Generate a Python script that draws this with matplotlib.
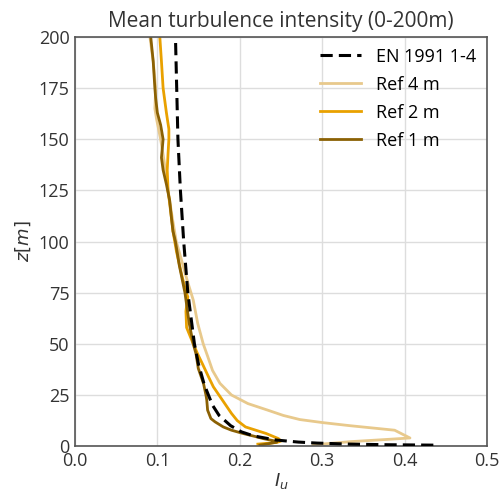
import numpy as np
import matplotlib
matplotlib.use("Agg")
import matplotlib.pyplot as plt

# --- data (z in m, turbulence intensity) ---
z_en = [0.5, 0.7, 1.0, 1.5, 2, 3, 5, 7, 10, 15, 20, 30, 40, 50, 75, 100, 125, 150, 175, 200]
iu_en = [0.435, 0.38, 0.334, 0.294, 0.271, 0.244, 0.217, 0.202, 0.189, 0.175, 0.167, 0.157,
         0.150, 0.145, 0.137, 0.132, 0.128, 0.125, 0.1235, 0.122]

z_ref4 = [0.6, 1.2, 2.2, 3.2, 4.0, 7.8, 10.0, 11.5, 13.0, 15.0, 17.6, 20.8, 25, 30.7, 37,
          44, 50, 60, 71.4, 80, 90, 100, 112, 125, 140, 150, 160, 165, 175, 188, 200]
iu_ref4 = [0.289, 0.305, 0.334, 0.375, 0.4066, 0.388, 0.334, 0.301, 0.273, 0.253, 0.234,
           0.210, 0.190, 0.176, 0.167, 0.161, 0.1557, 0.149, 0.1436, 0.137, 0.130, 0.123,
           0.118, 0.113, 0.108, 0.104, 0.099, 0.097, 0.098, 0.095, 0.091]

z_ref2 = [1.0, 1.8, 2.5, 3.7, 6.2, 9.4, 12.5, 16, 22.5, 29, 34, 40, 45, 50, 58, 66, 73, 75,
          84, 95, 105, 112, 125, 135, 143, 150, 155, 163, 175, 188, 200]
iu_ref2 = [0.222, 0.245, 0.250, 0.247, 0.232, 0.207, 0.197, 0.190, 0.179, 0.168, 0.162,
           0.155, 0.149, 0.1436, 0.1355, 0.1347, 0.137, 0.135, 0.1294, 0.1233, 0.119, 0.117,
           0.113, 0.112, 0.113, 0.114, 0.114, 0.111, 0.107, 0.105, 0.103]

z_ref1 = [0.5, 1.2, 2.0, 2.5, 3.7, 4.6, 6.2, 7.8, 9.4, 11.9, 13.5, 17.6, 22.5, 25, 30.7, 38,
          45, 50, 60, 75, 88.5, 100, 105, 112, 120, 128, 135, 141, 150, 157, 163, 170, 175,
          188, 200]
iu_ref1 = [0.2245, 0.235, 0.245, 0.243, 0.2285, 0.220, 0.204, 0.190, 0.180, 0.170, 0.165,
           0.161, 0.160, 0.159, 0.156, 0.1497, 0.147, 0.1436, 0.1387, 0.1335, 0.1266, 0.122,
           0.119, 0.117, 0.115, 0.111, 0.107, 0.105, 0.107, 0.104, 0.100, 0.098, 0.097,
           0.095, 0.092]

plt.rcParams['font.family'] = ['Open Sans', 'DejaVu Sans']
plt.rcParams['mathtext.fontset'] = 'dejavusans'

fig = plt.figure(figsize=(5.03, 4.93), dpi=100)
ax = fig.add_axes([0.149, 0.095, 0.819, 0.830])

ax.plot(iu_en, z_en, '--', color='black', lw=2.2, dashes=(4, 2), label='EN 1991 1-4', zorder=5)
ax.plot(iu_ref4, z_ref4, color='#e8c98c', lw=2, label='Ref 4 m')
ax.plot(iu_ref2, z_ref2, color='#e9a100', lw=2, label='Ref 2 m')
ax.plot(iu_ref1, z_ref1, color='#8b6104', lw=2, label='Ref 1 m')

ax.set_xlim(0, 0.5)
ax.set_ylim(0, 200)
ax.set_xticks([0.0, 0.1, 0.2, 0.3, 0.4, 0.5])
ax.set_xticklabels(['0.0', '0.1', '0.2', '0.3', '0.4', '0.5'])
ax.set_yticks([0, 25, 50, 75, 100, 125, 150, 175, 200])
ax.tick_params(length=0, labelsize=13, colors='#333333', pad=4)
ax.grid(True, color='#dddddd', lw=1)
ax.set_axisbelow(True)
for s in ax.spines.values():
    s.set_color('#555555')
    s.set_linewidth(1.2)

ax.set_xlabel('$I_u$', fontsize=13, color='#333333', labelpad=1)
ax.set_ylabel('$z[m]$', fontsize=13, color='#333333')
ax.set_title('Mean turbulence intensity (0-200m)', fontsize=15, color='#333333', pad=7)

ax.legend(loc='upper right', frameon=False, fontsize=13, handlelength=2.3,
          labelspacing=0.55, borderaxespad=0.2)

fig.savefig('out.png', dpi=100)
